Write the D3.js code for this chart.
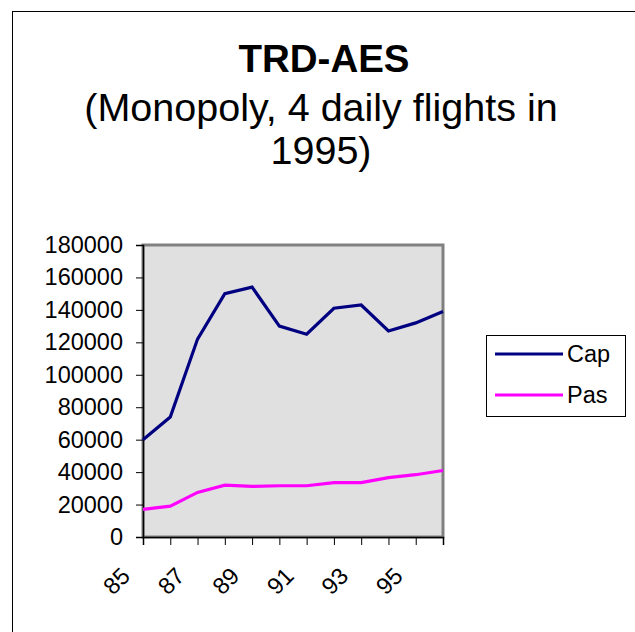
<!DOCTYPE html>
<html>
<head>
<meta charset="utf-8">
<script src="https://cdn.jsdelivr.net/npm/d3@7"></script>
<style>
  body { margin: 0; background: #fff; }
  svg { display: block; font-family: "Liberation Sans", Arial, sans-serif; }
</style>
</head>
<body>
<svg width="635" height="632"></svg>
<script>
const years = ["85", "86", "87", "88", "89", "90", "91", "92", "93", "94", "95", "96"];
const yearLabels = ["85", "87", "89", "91", "93", "95"];
const capValues = [60000, 74000, 122000, 150000, 154000, 130000, 125000, 141000, 143000, 127000, 132000, 139000];
const pasValues = [17000, 19000, 27500, 32000, 31200, 31600, 31600, 33500, 33500, 36600, 38400, 41000];
const yTicks = [0, 20000, 40000, 60000, 80000, 100000, 120000, 140000, 160000, 180000];
const seriesNames = ["Cap", "Pas"];
const seriesColors = ["#000080", "#ff00ff"];

const svg = d3.select("svg");

// outer chart frame (right and bottom edges fall outside the picture)
svg.append("rect")
    .attr("x", 12.5)
    .attr("y", 11.5)
    .attr("width", 660)
    .attr("height", 660)
    .attr("fill", "#fff")
    .attr("stroke", "#000")
    .attr("stroke-width", 1);

// title
svg.append("text")
    .attr("x", 324)
    .attr("y", 72)
    .attr("text-anchor", "middle")
    .attr("font-size", "38.5px")
    .attr("font-weight", "bold")
    .text("TRD-AES");

svg.append("text")
    .attr("x", 321)
    .attr("y", 121)
    .attr("text-anchor", "middle")
    .attr("font-size", "39.5px")
    .text("(Monopoly, 4 daily flights in");

svg.append("text")
    .attr("x", 321)
    .attr("y", 164)
    .attr("text-anchor", "middle")
    .attr("font-size", "39.5px")
    .text("1995)");

const plot = { left: 143, right: 443, top: 245, bottom: 537 };

const x = d3.scalePoint()
    .domain(years)
    .range([plot.left, plot.right]);

const y = d3.scaleLinear()
    .domain([0, 180000])
    .range([plot.bottom, plot.top]);

svg.append("rect")
    .attr("x", plot.left)
    .attr("y", plot.top)
    .attr("width", plot.right - plot.left)
    .attr("height", plot.bottom - plot.top)
    .attr("fill", "#e0e0e0")
    .attr("stroke", "#808080")
    .attr("stroke-width", 3);

// y axis
const yAxis = d3.axisLeft(y)
    .tickValues(yTicks)
    .tickSize(7)
    .tickPadding(13)
    .tickFormat(d3.format("d"));

const gy = svg.append("g")
    .attr("transform", `translate(${plot.left},0)`)
    .call(yAxis);

gy.select(".domain").attr("stroke", "#000").attr("stroke-width", 1.5);
gy.selectAll(".tick line").attr("stroke", "#000");
gy.selectAll(".tick text")
    .attr("font-size", "23.5px")
    .attr("font-family", "Liberation Sans, Arial, sans-serif")
    .attr("fill", "#000");

// x axis: ticks on every year, labels on every other one
const xAxis = d3.axisBottom(x)
    .tickSize(8)
    .tickFormat(d => yearLabels.includes(d) ? d : "");

const gx = svg.append("g")
    .attr("transform", `translate(0,${plot.bottom})`)
    .call(xAxis);

gx.select(".domain").attr("stroke", "#000").attr("stroke-width", 1.5);
gx.selectAll(".tick line").attr("stroke", "#000");
gx.selectAll(".tick text")
    .attr("font-size", "23.5px")
    .attr("font-family", "Liberation Sans, Arial, sans-serif")
    .attr("fill", "#000")
    .attr("text-anchor", "middle")
    .attr("dy", "0.35em")
    .attr("y", 0)
    .attr("transform", "translate(-27,44) rotate(-45)");

// lines
const line = d3.line()
    .x((d, i) => x(years[i]))
    .y(d => y(d));

[capValues, pasValues].forEach((vals, i) => {
    svg.append("path")
        .datum(vals)
        .attr("fill", "none")
        .attr("stroke", seriesColors[i])
        .attr("stroke-width", 3.2)
        .attr("stroke-linejoin", "miter")
        .attr("d", line);
});

// legend
const legend = svg.append("g");

legend.append("rect")
    .attr("x", 486.5)
    .attr("y", 335.5)
    .attr("width", 139)
    .attr("height", 81)
    .attr("fill", "#fff")
    .attr("stroke", "#000")
    .attr("stroke-width", 1);

seriesNames.forEach((name, i) => {
    const ly = 354 + i * 41;
    legend.append("line")
        .attr("x1", 495)
        .attr("x2", 563)
        .attr("y1", ly)
        .attr("y2", ly)
        .attr("stroke", seriesColors[i])
        .attr("stroke-width", 3.2);
    legend.append("text")
        .attr("x", 567)
        .attr("y", ly)
        .attr("dy", "0.35em")
        .attr("font-size", "23.5px")
        .text(name);
});
</script>
</body>
</html>
